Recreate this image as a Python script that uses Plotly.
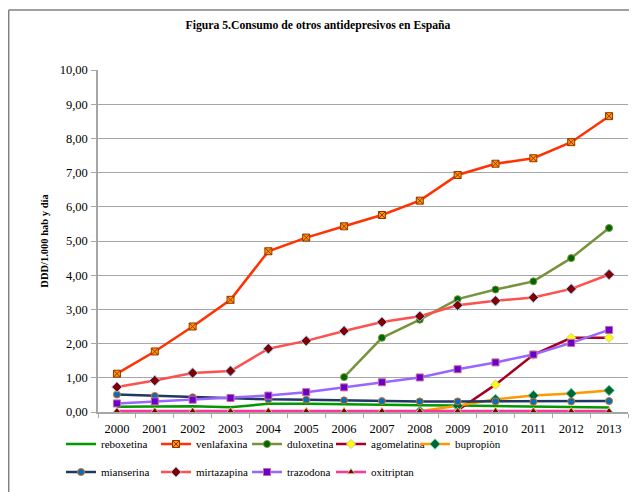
import plotly.graph_objects as go

years = [str(y) for y in range(2000, 2014)]

reboxetina = [0.15, 0.17, 0.17, 0.14, 0.24, 0.24, 0.22, 0.21, 0.20, 0.19, 0.18, 0.17, 0.15, 0.13]
venlafaxina = [1.12, 1.77, 2.50, 3.28, 4.70, 5.10, 5.43, 5.76, 6.18, 6.93, 7.26, 7.42, 7.89, 8.65]
duloxetina = [None, None, None, None, None, None, 1.02, 2.17, 2.70, 3.30, 3.58, 3.82, 4.50, 5.38]
agomelatina = [None, None, None, None, None, None, None, None, None, 0.05, 0.80, 1.67, 2.17, 2.17]
bupropion = [None, None, None, None, None, None, None, None, 0.02, 0.18, 0.37, 0.48, 0.54, 0.63]
mianserina = [0.51, 0.47, 0.43, 0.40, 0.37, 0.36, 0.34, 0.32, 0.31, 0.31, 0.31, 0.30, 0.31, 0.32]
mirtazapina = [0.73, 0.92, 1.14, 1.20, 1.85, 2.08, 2.37, 2.63, 2.80, 3.12, 3.25, 3.35, 3.60, 4.02]
trazodona = [0.25, 0.31, 0.36, 0.41, 0.48, 0.58, 0.72, 0.87, 1.01, 1.25, 1.45, 1.68, 2.02, 2.40]
oxitriptan = [0.03] * 14

y_ticks = [i for i in range(0, 11)]
y_ticktext = [f"{i},00" for i in range(0, 11)]

FONT = "Times New Roman, Liberation Serif, serif"

W, H = 637, 492
OFF = 8  # page body margin offset
ML, MR, MT, MB = 98 - OFF, W - (628 - OFF), 70 - OFF, H - (412 - OFF)
PW, PH = W - ML - MR, H - MT - MB

def px_x(p):
    return (p - OFF - ML) / PW

def px_y(p):
    return (H - MB - (p - OFF)) / PH

series = [
    ("reboxetina", reboxetina, "#009900", dict(symbol="circle", size=1, color="#009900")),
    ("venlafaxina", venlafaxina, "#FF3300", dict(symbol="square-x", size=7, color="#FF9900", line=dict(color="#993300", width=1))),
    ("duloxetina", duloxetina, "#77933C", dict(symbol="circle", size=7, color="#006600", line=dict(color="#77933C", width=1))),
    ("agomelatina", agomelatina, "#A50021", dict(symbol="diamond", size=7, color="#FFFF00", line=dict(color="#CCCC99", width=1))),
    ("bupropiòn", bupropion, "#FF9900", dict(symbol="diamond", size=8, color="#006633", line=dict(color="#66CC99", width=1))),
    ("mianserina", mianserina, "#1F3864", dict(symbol="circle", size=7, color="#0070C0", line=dict(color="#E46C0A", width=1))),
    ("mirtazapina", mirtazapina, "#FF5050", dict(symbol="diamond", size=8, color="#800000", line=dict(color="#99CCFF", width=1))),
    ("trazodona", trazodona, "#9966FF", dict(symbol="square", size=7, color="#6600CC", line=dict(color="#CC6699", width=1))),
    ("oxitriptan", oxitriptan, "#FF3399", dict(symbol="triangle-up", size=7, color="#800000", line=dict(color="#CCCC99", width=1))),
]

# legend entry anchor positions (text start x, row centre y) in screen pixels
legend_pos = [(99, 444), (194, 444), (285, 444), (369, 444), (453, 444),
              (99, 472), (194, 472), (285, 472), (369, 472)]

fig = go.Figure()
legend_layout = {}
for i, (name, vals, lc, mk) in enumerate(series):
    key = "legend" if i == 0 else f"legend{i + 1}"
    fig.add_trace(go.Scatter(
        x=years, y=vals, name=name, mode="lines+markers",
        line=dict(color=lc, width=2.5),
        marker=mk, legend=key, connectgaps=False,
    ))
    tx, ty = legend_pos[i]
    legend_layout[key] = dict(
        orientation="h", x=px_x(tx - 38), y=px_y(ty), xanchor="left", yanchor="middle",
        font=dict(family=FONT, size=11, color="black"), bgcolor="rgba(0,0,0,0)",
        itemwidth=30,
    )

fig.update_layout(
    width=W, height=H,
    margin=dict(l=ML, r=MR, t=MT, b=MB, autoexpand=False),
    paper_bgcolor="white", plot_bgcolor="white",
    font=dict(family=FONT, size=12, color="black"),
    title=dict(text="<b>Figura 5.Consumo de otros antidepresivos en España</b>",
               x=(318 - OFF) / W, xref="container", xanchor="center",
               y=1 - (25 - OFF) / H, yref="container", yanchor="middle",
               font=dict(family=FONT, size=11.7, color="black")),
    xaxis=dict(type="category", range=[-0.5, 13.5], showgrid=False,
               showline=True, linecolor="#A6A6A6", linewidth=1.5,
               ticks="outside", ticklen=4, tickcolor="#A6A6A6", tickson="boundaries",
               ticklabelstandoff=4,
               tickfont=dict(family=FONT, size=12.5, color="black"), zeroline=False),
    yaxis=dict(range=[0, 10], tickvals=y_ticks, ticktext=y_ticktext,
               showgrid=True, gridcolor="#A6A6A6", gridwidth=1.2,
               showline=True, linecolor="#A6A6A6", linewidth=1.5,
               ticks="outside", ticklen=5, tickcolor="#A6A6A6",
               ticklabelstandoff=1,
               tickfont=dict(family=FONT, size=12.5, color="black"), zeroline=False,
               title=dict(text="<b>DDD/1.000 hab y día</b>", standoff=9,
                          font=dict(family=FONT, size=10.5, color="black"))),
    showlegend=True,
    **legend_layout,
)

# outer chart border (top and left edges visible)
fig.add_shape(type="line", xref="paper", yref="paper",
              x0=px_x(8.7), x1=px_x(660), y0=px_y(10), y1=px_y(10),
              line=dict(color="#808080", width=1.5))
fig.add_shape(type="line", xref="paper", yref="paper",
              x0=px_x(8.7), x1=px_x(8.7), y0=px_y(10), y1=px_y(520),
              line=dict(color="#808080", width=1.5))

fig.write_html("out.html")
